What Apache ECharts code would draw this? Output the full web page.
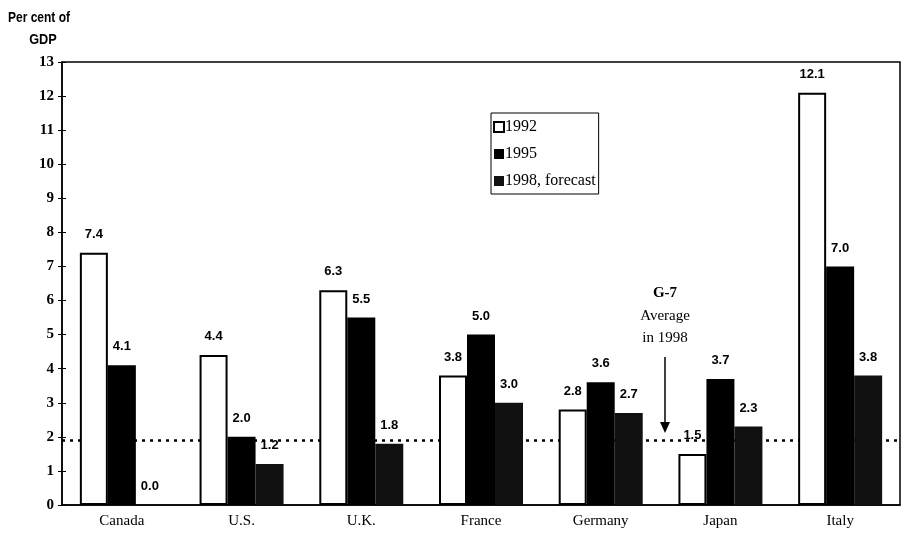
<!DOCTYPE html>
<html>
<head>
<meta charset="utf-8">
<script src="https://cdn.jsdelivr.net/npm/echarts@6/dist/echarts.min.js"></script>
<style>html,body{margin:0;padding:0;background:#fff}#c{width:908px;height:536px}</style>
</head>
<body>
<div id="c"></div>
<script>
var categories = ['Canada', 'U.S.', 'U.K.', 'France', 'Germany', 'Japan', 'Italy'];
var v1992 = [7.4, 4.4, 6.3, 3.8, 2.8, 1.5, 12.1];
var v1995 = [4.1, 2.0, 5.5, 5.0, 3.6, 3.7, 7.0];
var v1998 = [0.0, 1.2, 1.8, 3.0, 2.7, 2.3, 3.8];
var g7Average1998 = 1.9;
var yTicks = [0, 1, 2, 3, 4, 5, 6, 7, 8, 9, 10, 11, 12, 13];

var serif = '"Liberation Serif", "Times New Roman", serif';
var sans = '"Liberation Sans", Arial, sans-serif';

var chart = echarts.init(document.getElementById('c'), null, {renderer: 'canvas'});

var labelStyle = {
  show: true, position: 'top', distance: 12,
  fontFamily: sans, fontWeight: 'bold', fontSize: 13, color: '#000',
  formatter: function (p) { return p.value.toFixed(1); }
};

var option = {
  backgroundColor: '#fff',
  animation: false,
  grid: {left: 62, right: 8, top: 62, bottom: 31, show: true, borderColor: '#000', borderWidth: 1.5, backgroundColor: 'transparent'},
  legend: {
    orient: 'vertical', left: 491, top: 113,
    padding: [6, 3, 5, 2],
    borderColor: '#000', borderWidth: 1,
    itemWidth: 10, itemHeight: 10, itemGap: 11,
    icon: 'rect',
    textStyle: {fontFamily: serif, fontSize: 16, color: '#000', lineHeight: 16, padding: [0, 0, 0, -4]},
    data: ['1992', '1995', '1998, forecast']
  },
  xAxis: {
    type: 'category', data: categories,
    axisLine: {lineStyle: {color: '#000', width: 1.5}},
    axisTick: {show: false},
    axisLabel: {fontFamily: serif, fontSize: 15, color: '#000', margin: 9}
  },
  yAxis: [{
    type: 'value', min: 0, max: 13, interval: 1,
    splitLine: {show: false},
    axisLine: {show: true, lineStyle: {color: '#000', width: 1.5}},
    axisTick: {show: true, length: 4, lineStyle: {color: '#000', width: 1}},
    axisLabel: {fontFamily: serif, fontWeight: 'bold', fontSize: 15, color: '#000', margin: 8,
      formatter: function (v) { return yTicks.indexOf(v) >= 0 ? String(v) : ''; }}
  }, {
    type: 'value', min: 0, max: 13, interval: 1, position: 'left',
    splitLine: {show: false},
    axisLine: {show: false},
    axisTick: {show: true, inside: true, length: 4, lineStyle: {color: '#000', width: 1}},
    axisLabel: {show: false}
  }],
  series: [{
    name: '1992', type: 'bar', data: v1992, barWidth: 28, barGap: '0%', z: 2,
    itemStyle: {color: '#fff', borderColor: '#000', borderWidth: 2},
    label: labelStyle,
    markLine: {
      z: 1, silent: true, symbol: 'none',
      lineStyle: {color: '#000', type: [3, 5], width: 2.5},
      label: {show: false},
      data: [{yAxis: g7Average1998}]
    }
  }, {
    name: '1995', type: 'bar', data: v1995, barWidth: 28, barGap: '0%', z: 2,
    itemStyle: {color: '#000'},
    label: labelStyle
  }, {
    name: '1998, forecast', type: 'bar', data: v1998, barWidth: 28, barGap: '0%', z: 2,
    itemStyle: {color: '#111'},
    label: labelStyle
  }],
  graphic: [
    {type: 'text', x: 39, y: 18, scaleX: 0.8, style: {text: 'Per cent of', font: 'bold 15px ' + sans, fill: '#000', align: 'center', verticalAlign: 'middle'}},
    {type: 'text', x: 43, y: 40, scaleX: 0.85, style: {text: 'GDP', font: 'bold 15px ' + sans, fill: '#000', align: 'center', verticalAlign: 'middle'}},
    {type: 'text', x: 665, y: 293, style: {text: 'G-7', font: 'bold 15px ' + serif, fill: '#000', align: 'center', verticalAlign: 'middle'}},
    {type: 'text', x: 665, y: 316, style: {text: 'Average', font: '15px ' + serif, fill: '#000', align: 'center', verticalAlign: 'middle'}},
    {type: 'text', x: 665, y: 338, style: {text: 'in 1998', font: '15px ' + serif, fill: '#000', align: 'center', verticalAlign: 'middle'}},
    {type: 'line', shape: {x1: 665, y1: 357, x2: 665, y2: 424}, style: {stroke: '#000', lineWidth: 1.5}},
    {type: 'polygon', shape: {points: [[660, 422], [670, 422], [665, 433]]}, style: {fill: '#000'}}
  ]
};
chart.setOption(option);
</script>
</body>
</html>
